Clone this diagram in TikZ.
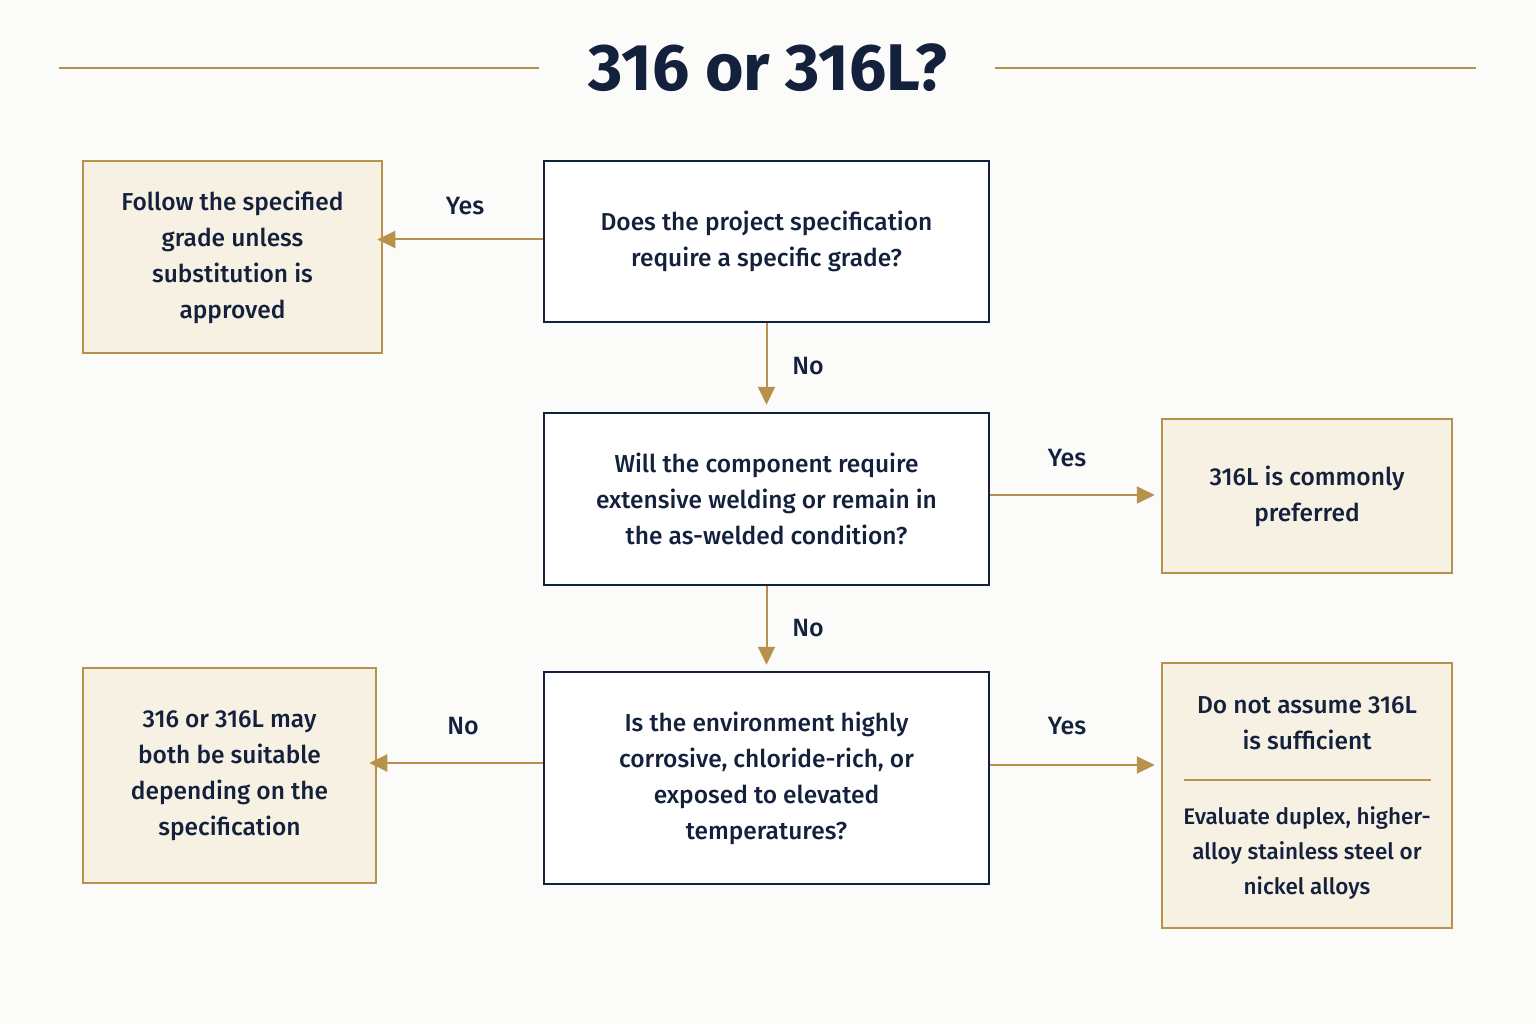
\documentclass[tikz,border=0pt]{standalone}
\usepackage{fontspec}
\setmainfont{Fira Sans}[UprightFont=* Medium,BoldFont=* Bold]
\usetikzlibrary{arrows.meta}
\definecolor{navy}{HTML}{14213D}
\definecolor{gold}{HTML}{B8924A}
\definecolor{beige}{HTML}{F7F1E3}
\definecolor{bg}{HTML}{FBFBF9}
\begin{document}
\begin{tikzpicture}[x=1pt,y=-1pt,
 q/.style={draw=navy,line width=2.5pt,fill=white,align=center,text=navy,inner sep=0pt,font=\fontsize{24.5}{36}\selectfont},
 r/.style={draw=gold,line width=2.5pt,fill=beige,align=center,text=navy,inner sep=0pt,font=\fontsize{24.5}{36}\selectfont},
 arr/.style={draw=gold,line width=2pt,-{Triangle[length=18pt,width=17pt]}},
 lab/.style={text=navy,font=\fontsize{25}{30}\selectfont}]
\useasboundingbox[fill=bg] (0,0) rectangle (1536,1024);
\node[text=navy,font=\fontsize{66}{70}\selectfont\bfseries] (title) at (768,68) {316 or 316L?};
\coordinate (t1) at (59,68); \coordinate (t2) at (539,68);
\coordinate (t3) at (995,68); \coordinate (t4) at (1476,68);
\draw[gold,line width=2.5pt] (t1) -- (t2) (t3) -- (t4);
\node[q,minimum width=445pt,minimum height=161pt] (q1) at (766.5,241.5) {Does the project specification\\require a specific grade?};
\node[r,minimum width=299pt,minimum height=192pt] (l1) at (232.5,257) {Follow the specified\\grade unless\\substitution is\\approved};
\node[q,minimum width=445pt,minimum height=172pt] (q2) at (766.5,499) {Will the component require\\extensive welding or remain in\\the as-welded condition?};
\node[r,minimum width=290pt,minimum height=154pt] (r2) at (1307,496) {316L is commonly\\preferred};
\node[q,minimum width=445pt,minimum height=212pt] (q3) at (766.5,778) {Is the environment highly\\corrosive, chloride-rich, or\\exposed to elevated\\temperatures?};
\node[r,minimum width=293pt,minimum height=215pt] (l3) at (229.5,775.5) {316 or 316L may\\both be suitable\\depending on the\\specification};
\node[r,minimum width=290pt,minimum height=265pt] (r3) at (1307,795.5) {};
\node[text=navy,align=center,font=\fontsize{24.5}{36}\selectfont] (r3a) at (1307,723) {Do not assume 316L\\is sufficient};
\node[text=navy,align=center,font=\fontsize{22.5}{35}\selectfont] (r3b) at (1307,853) {Evaluate duplex, higher-\\alloy stainless steel or\\nickel alloys};
\coordinate (d1) at (1184,780); \coordinate (d2) at (1431,780);
\draw[gold,line width=2pt] (d1) -- (d2);
\draw[arr] ([yshift=2pt]q1.west) -- ([xshift=-6pt,yshift=2pt]l1.east |- q1.west);
\draw[arr] (q1.south) -- ([yshift=7pt]q2.north);
\draw[arr] ([yshift=4pt]q2.east) -- ([xshift=-6pt,yshift=4pt]r2.west |- q2.east);
\draw[arr] (q2.south) -- ([yshift=6pt]q3.north);
\draw[arr] ([yshift=15pt]q3.west) -- ([xshift=-8pt,yshift=15pt]l3.east |- q3.west);
\draw[arr] ([yshift=13pt]q3.east) -- ([xshift=-6pt,yshift=13pt]r3.west |- q3.east);
\node[lab] (y1) at (465,206) {Yes};
\node[lab] (n1) at (808,366) {No};
\node[lab] (y2) at (1067,458) {Yes};
\node[lab] (n2) at (808,628) {No};
\node[lab] (n3) at (463,726) {No};
\node[lab] (y3) at (1067,726) {Yes};
\end{tikzpicture}
\end{document}
